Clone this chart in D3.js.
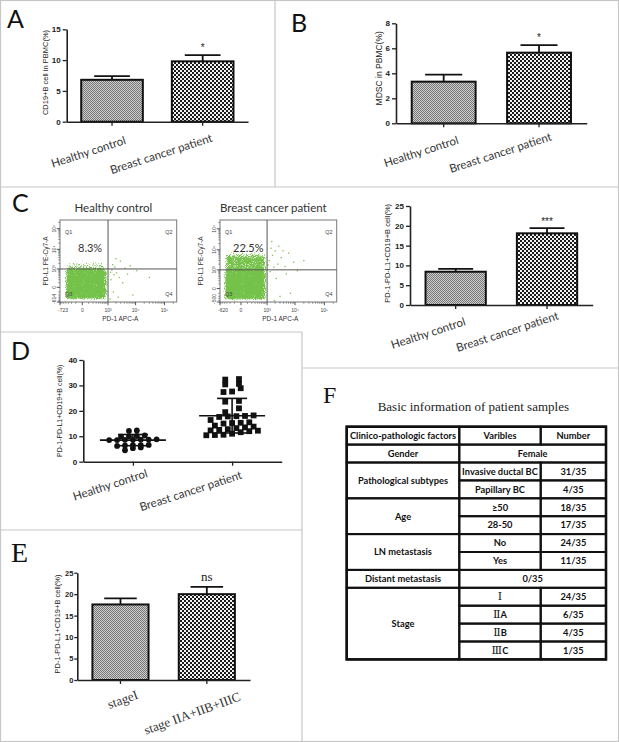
<!DOCTYPE html>
<html><head><meta charset="utf-8">
<script src="https://cdn.jsdelivr.net/npm/d3@7"></script>
<style>body{margin:0;background:#fff}svg{display:block}</style>
</head><body>
<svg id="c" width="619" height="742"></svg>
<script>
// ---------------- DATA ----------------
const groups = ["Healthy control", "Breast cancer patient"];
const cd19Mean = [6.8, 9.8];
const cd19Err = [0.6, 1.0];
const cd19Ticks = [0, 5, 10, 15];
const mdscMean = [3.33, 5.65];
const mdscErr = [0.57, 0.6];
const mdscTicks = [0, 2, 4, 6, 8];
const pdMean = [8.4, 18.1];
const pdErr = [0.7, 1.3];
const pdTicks = [0, 5, 10, 15, 20, 25];
const stageGroups = ["stageI", "stage IIA+IIB+IIIC"];
const stageMean = [17.6, 20.0];
const stageErr = [1.4, 1.7];
const stageTicks = [0, 5, 10, 15, 20, 25];
const healthyDots = [12.3, 12.1, 10.3, 10.1, 10.0, 9.9, 8.8, 8.7, 8.6, 8.6, 8.5, 8.7, 8.5, 6.6, 6.5, 6.4, 6.2, 6.5, 5.6, 5.3, 4.5];
const cancerDots = [32.3, 32.5, 30.4, 30.6, 28.9, 27.6, 27.4, 23.6, 23.9, 21.0, 19.5, 18.0, 17.9, 18.2, 17.8, 17.6, 16.4, 15.3, 15.5, 15.2, 15.0, 14.2, 13.5, 13.8, 13.2, 12.8, 12.5, 12.3, 12.0, 12.2, 11.6, 11.0, 10.5, 10.4, 10.6];
const dotMean = [8.5, 18.1];
const dotSD = [2.2, 6.8];
const dotTicks = [0, 10, 20, 30, 40];
// flow cytometry
const flowTitles = ["Healthy control", "Breast cancer patient"];
const flowPct = ["8.3%", "22.5%"];
const flowXmin = [-723, -620];
const flowYmin = [-614, -500];
const healthyCloud = [
  {x0: -450, x1: 900, y0: -460, y1: 1000, d: 1},
  {x0: -400, x1: 800, y0: 1000, y1: 2500, d: 0.6},
  {x0: -300, x1: 600, y0: 2500, y1: 5000, d: 0.35},
  {x0: 900, x1: 1800, y0: -300, y1: 1000, d: 0.3}
];
const cancerCloud = [
  {x0: -420, x1: 900, y0: -400, y1: 1000, d: 1},
  {x0: -400, x1: 900, y0: 1000, y1: 6000, d: 0.85},
  {x0: -300, x1: 700, y0: 6000, y1: 30000, d: 0.45},
  {x0: 900, x1: 2500, y0: -300, y1: 6000, d: 0.28}
];
const healthyEvents = [[1300,200],[1600,-100],[2100,600],[2600,300],[1400,900],[3500,100],[1800,1300],[5200,500],[8000,-200],[1200,-400],[2400,-300],[11000,800],[1500,1700],[2900,2600],[30000,300],[1700,450],[4200,1100],[1250,650],[6500,1500],[2000,3500]];
const cancerEvents = [[1200,3000],[1600,5500],[2000,9000],[2500,2000],[3300,4200],[1400,12000],[4500,1500],[1800,1400],[6000,7000],[1300,800],[2200,300],[3000,-200],[5000,600],[9000,2500],[1500,25000],[2700,15000],[12000,900],[1900,-400],[7000,-100],[3800,9000],[1100,1800],[20000,3000]];
// table
const tableTitle = "Basic information of patient samples";
const tableHeader = ["Clinico-pathologic factors", "Varibles", "Number"];
const tableFactors = ["Gender", "Pathological subtypes", "Age", "LN metastasis", "Distant metastasis", "Stage"];
const tableRows = [
  [["Female"]],
  [["Invasive ductal BC", "31/35"], ["Papillary BC", "4/35"]],
  [["≥50", "18/35"], ["28-50", "17/35"]],
  [["No", "24/35"], ["Yes", "11/35"]],
  [["0/35"]],
  [["Ⅰ", "24/35"], ["ⅡA", "6/35"], ["ⅡB", "4/35"], ["ⅢC", "1/35"]]
];

// ---------------- DRAW ----------------
const svg = d3.select("#c");
const SANS = "Lato, 'Open Sans', sans-serif";
const ARIAL = "'Liberation Sans', Arial, sans-serif";
const SERIF = "'Liberation Serif', 'Times New Roman', serif";
const defs = svg.append("defs");
const pf = defs.append("pattern").attr("id", "pFine").attr("width", 2).attr("height", 2).attr("patternUnits", "userSpaceOnUse");
pf.append("rect").attr("width", 2).attr("height", 2).attr("fill", "#cfcfcf");
pf.append("rect").attr("width", 1).attr("height", 1).attr("fill", "#767676");
pf.append("rect").attr("x", 1).attr("y", 1).attr("width", 1).attr("height", 1).attr("fill", "#767676");
const pc = defs.append("pattern").attr("id", "pCheck").attr("width", 4).attr("height", 4).attr("patternUnits", "userSpaceOnUse");
pc.append("rect").attr("width", 4).attr("height", 4).attr("fill", "#f4f4f4");
pc.append("rect").attr("width", 2).attr("height", 2).attr("fill", "#1a1a1a");
pc.append("rect").attr("x", 2).attr("y", 2).attr("width", 2).attr("height", 2).attr("fill", "#1a1a1a");

const flt = defs.append("filter").attr("id", "spk").attr("x", "-20%").attr("y", "-20%").attr("width", "140%").attr("height", "140%").attr("color-interpolation-filters", "sRGB");
flt.append("feGaussianBlur").attr("in", "SourceAlpha").attr("stdDeviation", 2.2).attr("result", "b");
flt.append("feColorMatrix").attr("in", "b").attr("type", "matrix").attr("values", "0 0 0 1 0  0 0 0 1 0  0 0 0 1 0  0 0 0 0 1").attr("result", "dens");
flt.append("feTurbulence").attr("type", "fractalNoise").attr("baseFrequency", 1.1).attr("numOctaves", 1).attr("seed", 4).attr("result", "noise");
flt.append("feColorMatrix").attr("in", "noise").attr("type", "matrix").attr("values", "1 0 0 0 0  1 0 0 0 0  1 0 0 0 0  0 0 0 0 1").attr("result", "n1");
flt.append("feComposite").attr("in", "n1").attr("in2", "dens").attr("operator", "arithmetic").attr("k1", 0).attr("k2", 0.5).attr("k3", 0.5).attr("k4", 0).attr("result", "sum");
flt.append("feColorMatrix").attr("in", "sum").attr("type", "matrix").attr("values", "0 0 0 0 0.46  0 0 0 0 0.76  0 0 0 0 0.29  9 0 0 0 -4.9");

// panel borders
const bc = "#c6c6c6";
svg.append("rect").attr("x", 0.5).attr("y", 0.5).attr("width", 618).attr("height", 741).attr("fill", "none").attr("stroke", bc).attr("stroke-width", 1.2);
[[275,0,275,187],[0,187,619,187],[0,332,302,332],[302,332,302,742],[302,368,619,368],[0,530,302,530]].forEach(l =>
  svg.append("line").attr("x1", l[0]).attr("y1", l[1]).attr("x2", l[2]).attr("y2", l[3]).attr("stroke", bc).attr("stroke-width", 1.2));

function txt(g, x, y, s, size, fam, extra) {
  const t = g.append("text").attr("x", x).attr("y", y).text(s).attr("font-size", size).attr("font-family", fam).attr("fill", "#222");
  if (extra) Object.entries(extra).forEach(([k, v]) => t.attr(k, v));
  return t;
}

// panel letters
txt(svg, 7, 28, "A", 25, SANS, {fill: "#111"});
txt(svg, 291, 32, "B", 25, SANS, {fill: "#111"});
txt(svg, 12, 212, "C", 25, SANS, {fill: "#111"});
txt(svg, 11, 360, "D", 25, SANS, {fill: "#111"});
txt(svg, 11, 562, "E", 28, SERIF, {fill: "#111"});
txt(svg, 323, 403, "F", 24, SERIF, {fill: "#111"});

function styleAxis(a, fs) {
  a.select(".domain").attr("stroke", "#222").attr("stroke-width", 1.6);
  a.selectAll(".tick line").attr("stroke", "#222").attr("stroke-width", 1.3);
  a.selectAll(".tick text").attr("font-family", ARIAL).attr("font-weight", "bold").attr("font-size", fs || 8).attr("fill", "#222");
}

function yLabel(g, x, y, s, size) {
  g.append("text").attr("transform", `translate(${x},${y}) rotate(-90)`).attr("text-anchor", "middle")
    .attr("font-family", ARIAL).attr("font-size", size).attr("fill", "#222").text(s);
}

function barPanel(o) {
  const g = svg.append("g");
  const x = d3.scaleBand().domain(o.cats).range([o.x0, o.x1]).paddingInner(o.pad).paddingOuter(o.pad / 2);
  const y = d3.scaleLinear().domain([0, o.max]).range([o.yb, o.yt]);
  const cx = i => x(o.cats[i]) + x.bandwidth() / 2;
  const capW = x.bandwidth() * 0.58;
  o.means.forEach((m, i) => {
    const top = y(m + o.errs[i]);
    g.append("line").attr("x1", cx(i)).attr("x2", cx(i)).attr("y1", y(m)).attr("y2", top).attr("stroke", "#111").attr("stroke-width", 1.8);
    g.append("line").attr("x1", cx(i) - capW / 2).attr("x2", cx(i) + capW / 2).attr("y1", top).attr("y2", top).attr("stroke", "#111").attr("stroke-width", 1.8);
  });
  g.selectAll("rect.bar").data(o.means).join("rect").attr("class", "bar")
    .attr("x", (d, i) => x(o.cats[i])).attr("width", x.bandwidth())
    .attr("y", d => y(d)).attr("height", d => o.yb - y(d))
    .attr("fill", (d, i) => i ? "url(#pCheck)" : "url(#pFine)").attr("stroke", "#111").attr("stroke-width", 2);
  const ya = g.append("g").attr("transform", `translate(${o.x0},0)`).call(d3.axisLeft(y).tickValues(o.ticks).tickSize(o.tk || 4).tickSizeOuter(0).tickPadding(o.tp || 2));
  styleAxis(ya, o.tfs);
  const xa = g.append("g").attr("transform", `translate(0,${o.yb})`).call(d3.axisBottom(x).tickSize(4).tickSizeOuter(0).tickFormat(""));
  styleAxis(xa);
  o.cats.forEach((c, i) => {
    g.append("text").attr("transform", `translate(${cx(i) + o.lab[i][0]},${o.yb + o.lab[i][1]}) rotate(${o.rot})`)
      .attr("text-anchor", "end").attr("font-family", o.labFam).attr("font-size", o.labSize).attr("fill", "#333").text(c);
  });
  const si = o.means.length - 1;
  g.append("text").attr("x", cx(si)).attr("y", y(o.means[si] + o.errs[si]) - o.sigGap).attr("text-anchor", "middle")
    .attr("font-family", o.sigFam).attr("font-size", o.sigSize).attr("fill", "#222").text(o.sig);
  yLabel(g, o.ylx, o.yly, o.ylabel, o.ylSize);
}

barPanel({cats: groups, means: cd19Mean, errs: cd19Err, ticks: cd19Ticks, max: 15, x0: 66.7, x1: 248, yb: 121.7, yt: 29.3, pad: 0.32,
  lab: [[14.6, 22], [10.5, 19.5]], rot: -18, labFam: SANS, labSize: 11.5, sig: "*", sigFam: ARIAL, sigSize: 10, sigGap: 4,
  ylabel: "CD19+B cell in PBMC(%)", ylx: 48, yly: 72.5, ylSize: 7.5});
barPanel({cats: groups, means: mdscMean, errs: mdscErr, ticks: mdscTicks, max: 8, x0: 396, x1: 586.7, yb: 123.3, yt: 23.3, pad: 0.33,
  lab: [[15.7, 20], [13.4, 16.7]], rot: -18, labFam: SANS, labSize: 11.5, sig: "*", sigFam: ARIAL, sigSize: 10, sigGap: 4,
  ylabel: "MDSC in PBMC(%)", ylx: 382, yly: 68.3, ylSize: 8.5});
barPanel({cats: groups, means: pdMean, errs: pdErr, ticks: pdTicks, max: 25, x0: 410, x1: 592.7, yb: 305, yt: 206, pad: 0.34,
  lab: [[10.7, 20], [12.3, 14]], rot: -18, labFam: SANS, labSize: 11.5, sig: "***", sigFam: ARIAL, sigSize: 10, sigGap: 3.5,
  ylabel: "PD-1-PD-L1+CD19+B cell(%)", ylx: 390, yly: 253.3, ylSize: 7.5});
barPanel({cats: stageGroups, means: stageMean, errs: stageErr, ticks: stageTicks, max: 25, x0: 77.3, x1: 250, yb: 680, yt: 572.7, pad: 0.35,
  lab: [[18.3, 18.3], [34.7, 20]], rot: -20, labFam: SERIF, labSize: 13, sig: "ns", sigFam: SERIF, sigSize: 13, sigGap: 6,
  ylabel: "PD-1-PD-L1+CD19+B cell(%)", ylx: 60, yly: 624, ylSize: 7.5, tk: 3, tp: 1, tfs: 7.5});

// ---- Panel D: scatter dot plot ----
(function () {
  const g = svg.append("g");
  const x0 = 83.3, x1 = 281.7, yb = 461.7, yt = 360;
  const x = d3.scalePoint().domain(groups).range([x0, x1]).padding(0.5);
  const y = d3.scaleLinear().domain([0, 40]).range([yb, yt]);
  const sets = [healthyDots, cancerDots];
  sets.forEach((vals, gi) => {
    const cx = x(groups[gi]);
    const m = dotMean[gi], sd = dotSD[gi];
    const ln = (a, b, c, d) => g.append("line").attr("x1", a).attr("y1", b).attr("x2", c).attr("y2", d).attr("stroke", "#111").attr("stroke-width", 1.6);
    ln(cx - 33, y(m), cx + 33, y(m));
    ln(cx, y(m - sd), cx, y(m + sd));
    ln(cx - 15, y(m + sd), cx + 15, y(m + sd));
    ln(cx - 15, y(m - sd), cx + 15, y(m - sd));
    // row-based scatter layout: points close in value share a row, centred on the category
    const spacing = gi ? 8.6 : 7.9;
    const thr = gi ? 4.6 : 3.5;
    const rows = [];
    vals.slice().sort((a, b) => a - b).forEach(v => {
      const last = rows[rows.length - 1];
      if (last && Math.abs(y(last[0]) - y(v)) < thr) last.push(v); else rows.push([v]);
    });
    const placed = [];
    rows.forEach(r => {
      const sp = r.length === 2 && gi ? spacing * 1.6 : spacing;
      r.forEach((v, j) => placed.push({x: cx + (j - (r.length - 1) / 2) * sp, y: y(v)}));
    });
    if (gi === 0) {
      g.selectAll("circle.h").data(placed).join("circle").attr("class", "h").attr("cx", d => d.x).attr("cy", d => d.y).attr("r", 2.9).attr("fill", "#111");
    } else {
      g.selectAll("rect.c").data(placed).join("rect").attr("class", "c").attr("x", d => d.x - 2.9).attr("y", d => d.y - 2.9).attr("width", 5.8).attr("height", 5.8).attr("fill", "#111");
    }
  });
  const ya = g.append("g").attr("transform", `translate(${x0},0)`).call(d3.axisLeft(y).tickValues(dotTicks).tickSize(4).tickSizeOuter(0).tickPadding(2));
  styleAxis(ya);
  const xa = g.append("g").attr("transform", `translate(0,${yb})`).call(d3.axisBottom(x).tickSize(4).tickSizeOuter(0).tickFormat(""));
  styleAxis(xa);
  const labOff = [[15.4, 15], [10.6, 16.6]];
  groups.forEach((c, i) => {
    g.append("text").attr("transform", `translate(${x(c) + labOff[i][0]},${yb + labOff[i][1]}) rotate(-18)`)
      .attr("text-anchor", "end").attr("font-family", SANS).attr("font-size", 11.5).attr("fill", "#333").text(c);
  });
  yLabel(g, 61.5, 410.8, "PD-1-PD-L1+CD19+B cell(%)", 7);
})();

// ---- Panel C: flow plots ----
function flowPlot(o) {
  const g = svg.append("g");
  const L = o.left, T = o.top, W = 116.7, H = 82;
  const x = d3.scaleSymlog().constant(150).domain([o.xmin, 262144]).range([L, L + W]);
  const y = d3.scaleSymlog().constant(150).domain([o.ymin, 262144]).range([T + H, T]);
  defs.append("clipPath").attr("id", o.id + "clip").append("rect").attr("x", L).attr("y", T).attr("width", W).attr("height", H);
  const cg = g.append("g").attr("clip-path", `url(#${o.id}clip)`);
  cg.append("g").attr("filter", "url(#spk)").selectAll("rect").data(o.cloud).join("rect")
    .attr("x", d => x(d.x0)).attr("y", d => y(d.y1)).attr("width", d => x(d.x1) - x(d.x0)).attr("height", d => y(d.y0) - y(d.y1))
    .attr("fill", "#000").attr("fill-opacity", d => d.d);
  cg.selectAll("rect.ev").data(o.events).join("rect").attr("class", "ev")
    .attr("x", d => x(d[0]) - 0.6).attr("y", d => y(d[1]) - 0.6).attr("width", 1.3).attr("height", 1.3).attr("fill", "#7cc24a");
  g.append("rect").attr("x", L).attr("y", T).attr("width", W).attr("height", H).attr("fill", "none").attr("stroke", "#777").attr("stroke-width", 1);
  g.append("line").attr("x1", x(1000)).attr("x2", x(1000)).attr("y1", T).attr("y2", T + H).attr("stroke", "#555").attr("stroke-width", 1);
  g.append("line").attr("x1", L).attr("x2", L + W).attr("y1", y(1000)).attr("y2", y(1000)).attr("stroke", "#555").attr("stroke-width", 1);
  // ticks
  const minorOf = mn => {
    const a = [];
    [2, 3, 4].forEach(e => d3.range(1, 10).forEach(k => { if (!(k === 1 && e > 2)) a.push(k * Math.pow(10, e)); }));
    d3.range(1, 10).forEach(k => { if (-k * 100 > mn) a.push(-k * 100); });
    a.push(2e5);
    return a;
  };
  const majors = [0, 1e3, 1e4, 1e5];
  const supLab = ["0", "10³", "10⁴", "10⁵"];
  minorOf(o.xmin).forEach(v => g.append("line").attr("x1", x(v)).attr("x2", x(v)).attr("y1", T + H).attr("y2", T + H + 1.8).attr("stroke", "#555").attr("stroke-width", 0.6));
  minorOf(o.ymin).forEach(v => g.append("line").attr("y1", y(v)).attr("y2", y(v)).attr("x1", L).attr("x2", L - 1.8).attr("stroke", "#555").attr("stroke-width", 0.6));
  [o.xmin].concat(majors).forEach((v, i) => {
    g.append("line").attr("x1", x(v)).attr("x2", x(v)).attr("y1", T + H).attr("y2", T + H + 3.2).attr("stroke", "#444").attr("stroke-width", 0.9);
    txt(g, x(v) + (i === 0 ? 3 : 0), T + H + 9.5, i === 0 ? String(o.xmin) : supLab[i - 1], 5, ARIAL, {"text-anchor": "middle", fill: "#444"});
  });
  [o.ymin].concat(majors).forEach((v, i) => {
    g.append("line").attr("y1", y(v)).attr("y2", y(v)).attr("x1", L).attr("x2", L - 3.2).attr("stroke", "#444").attr("stroke-width", 0.9);
    g.append("text").attr("transform", `translate(${L - 4.5},${y(v) - (i === 0 ? 3 : 0)}) rotate(-90)`).attr("text-anchor", "middle")
      .attr("font-family", ARIAL).attr("font-size", 5).attr("fill", "#444").text(i === 0 ? String(o.ymin) : supLab[i - 1]);
  });
  txt(g, L + W / 2 + 2, T + H + 18.5, "PD-1 APC-A", 6.5, ARIAL, {"text-anchor": "middle", fill: "#333"});
  g.append("text").attr("transform", `translate(${L - o.ylOff},${T + H / 2}) rotate(-90)`).attr("text-anchor", "middle")
    .attr("font-family", ARIAL).attr("font-size", 6.5).attr("fill", "#333").text("PD-L1 PE-Cy7-A");
  txt(g, L + 5, T + 14, "Q1", 5.5, ARIAL, {fill: "#444"});
  txt(g, L + W - 4, T + 14, "Q2", 5.5, ARIAL, {fill: "#444", "text-anchor": "end"});
  txt(g, L + 5, T + H - 6, "Q3", 5.5, ARIAL, {fill: "#444"});
  txt(g, L + W - 4, T + H - 6, "Q4", 5.5, ARIAL, {fill: "#444", "text-anchor": "end"});
  txt(g, L + o.pctX, T + 32, o.pct, 11, SANS, {fill: "#333"});
  txt(g, L + W / 2 - 5, T - 8, o.title, 11.5, SANS, {"text-anchor": "middle", fill: "#333"});
}
flowPlot({id: "fh", left: 60, top: 220, xmin: flowXmin[0], ymin: flowYmin[0], cloud: healthyCloud, events: healthyEvents, title: flowTitles[0], pct: flowPct[0], pctX: 18, ylOff: 12});
flowPlot({id: "fc", left: 220, top: 220, xmin: flowXmin[1], ymin: flowYmin[1], cloud: cancerCloud, events: cancerEvents, title: flowTitles[1], pct: flowPct[1], pctX: 13, ylOff: 17});

// ---- Panel F: table ----
(function () {
  const g = svg.append("g");
  txt(g, 473.3, 410.7, tableTitle, 13, SERIF, {"text-anchor": "middle", fill: "#222"});
  const cols = [346.7, 459.3, 540.7, 606];
  const nRows = 1 + d3.sum(tableRows, r => r.length);
  const ry = d3.scaleBand().domain(d3.range(nRows)).range([426.7, 659.4]);
  const rh = ry.bandwidth();
  const FS = 9.3;
  const cell = (xa, xb, r0, r1, s) => {
    g.append("rect").attr("x", xa).attr("y", ry(r0)).attr("width", xb - xa).attr("height", ry(r1) + rh - ry(r0))
      .attr("fill", "none").attr("stroke", "#111").attr("stroke-width", 2);
    const ty = (ry(r0) + ry(r1) + rh) / 2 + FS * 0.36;
    const t = g.append("text").attr("x", (xa + xb) / 2).attr("y", ty).attr("text-anchor", "middle")
      .attr("font-family", SANS).attr("font-weight", "bold").attr("font-size", FS).attr("fill", "#111");
    const m = s.match(/^([Ⅰ-Ⅻ]+)(.*)$/);
    if (m) {
      t.append("tspan").attr("font-family", "'DejaVu Serif', 'Noto Sans CJK SC', serif").attr("font-weight", "normal").attr("font-size", 11).text(m[1]);
      t.append("tspan").text(m[2]);
    } else t.text(s);
  };
  tableHeader.forEach((h, i) => cell(cols[i], cols[i + 1], 0, 0, h));
  let r = 1;
  tableFactors.forEach((f, fi) => {
    const rows = tableRows[fi];
    cell(cols[0], cols[1], r, r + rows.length - 1, f);
    rows.forEach((row, k) => {
      if (row.length === 1) cell(cols[1], cols[3], r + k, r + k, row[0]);
      else { cell(cols[1], cols[2], r + k, r + k, row[0]); cell(cols[2], cols[3], r + k, r + k, row[1]); }
    });
    r += rows.length;
  });
  g.append("rect").attr("x", cols[0]).attr("y", ry(0)).attr("width", cols[3] - cols[0]).attr("height", ry(nRows - 1) + rh - ry(0))
    .attr("fill", "none").attr("stroke", "#111").attr("stroke-width", 2.6);
})();
</script>
</body></html>
